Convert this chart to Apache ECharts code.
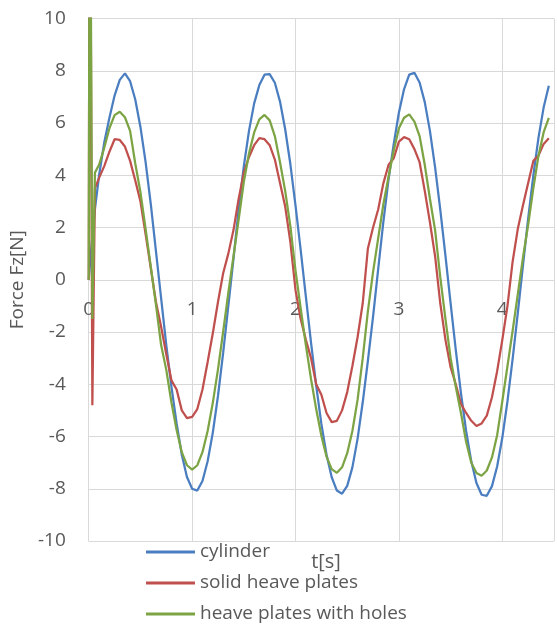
<!DOCTYPE html>
<html>
<head>
<meta charset="utf-8">
<script src="https://cdn.jsdelivr.net/npm/echarts@6/dist/echarts.min.js"></script>
<style>
html,body{margin:0;padding:0;background:#fff;}
#chart{width:557px;height:625px;}
</style>
</head>
<body>
<div id="chart"></div>
<script>
// time [s]
const time = [0, 0.01, 0.035, 0.06,
  0.10, 0.15, 0.20, 0.25, 0.30, 0.35, 0.40, 0.45, 0.50, 0.55, 0.60, 0.65, 0.70, 0.75, 0.80, 0.85, 0.90, 0.95,
  1.00, 1.05, 1.10, 1.15, 1.20, 1.25, 1.30, 1.35, 1.40, 1.45, 1.50, 1.55, 1.60, 1.65, 1.70, 1.75, 1.80, 1.85, 1.90, 1.95,
  2.00, 2.05, 2.10, 2.15, 2.20, 2.25, 2.30, 2.35, 2.40, 2.45, 2.50, 2.55, 2.60, 2.65, 2.70, 2.75, 2.80, 2.85, 2.90, 2.95,
  3.00, 3.05, 3.10, 3.15, 3.20, 3.25, 3.30, 3.35, 3.40, 3.45, 3.50, 3.55, 3.60, 3.65, 3.70, 3.75, 3.80, 3.85, 3.90, 3.95,
  4.00, 4.05, 4.10, 4.15, 4.20, 4.25, 4.30, 4.35, 4.40, 4.45];

// Force Fz [N]
const cylinder = [0, 0.5, 1.7, 2.7,
  4.0, 5.25, 6.2, 7.05, 7.65, 7.9, 7.6, 6.9, 5.85, 4.5, 2.9, 1.1, -0.7, -2.5, -4.1, -5.5, -6.7, -7.55,
  -8.0, -8.07, -7.7, -6.95, -5.85, -4.45, -2.8, -1.0, 0.8, 2.7, 4.35, 5.7, 6.75, 7.45, 7.85, 7.87, 7.54, 6.82, 5.76, 4.43,
  2.84, 1.13, -0.65, -2.41, -4.05, -5.52, -6.7, -7.56, -8.07, -8.19, -7.89, -7.18, -6.09, -4.69, -3.1, -1.41, 0.43, 2.23, 3.85, 5.2,
  6.4, 7.3, 7.85, 7.92, 7.55, 6.8, 5.7, 4.3, 2.68, 0.92, -0.9, -2.68, -4.34, -5.79, -6.95, -7.78, -8.23, -8.27, -7.9, -7.15,
  -6.05, -4.65, -3.03, -1.27, 0.55, 2.34, 3.99, 5.44, 6.6, 7.43];

const solidPlates = [0, 20, -4.8, 3.5,
  3.9, 4.35, 4.9, 5.38, 5.35, 5.1, 4.55, 3.8, 3.0, 1.75, 0.45, -0.85, -1.8, -2.85, -3.85, -4.2, -5.0, -5.3,
  -5.25, -4.95, -4.2, -3.15, -2.05, -0.85, 0.25, 1.0, 1.9, 3.1, 4.1, 4.7, 5.15, 5.42, 5.38, 5.15, 4.6, 3.7, 2.8, 1.45,
  -0.4, -1.5, -2.3, -3.0, -4.0, -4.4, -5.1, -5.45, -5.4, -5.0, -4.3, -3.3, -2.2, -0.9, 1.2, 2.0, 2.7, 3.7, 4.4, 4.65,
  5.29, 5.46, 5.38, 5.0, 4.5, 3.4, 2.2, 0.9, -0.9, -2.3, -3.35, -4.0, -4.75, -5.1, -5.4, -5.6, -5.5, -5.2, -4.5, -3.5,
  -2.3, -1.0, 0.7, 1.95, 2.85, 3.7, 4.55, 4.75, 5.2, 5.42];

const platesWithHoles = [0, 20, -1.5, 4.1,
  4.4, 5.05, 5.8, 6.3, 6.43, 6.22, 5.7, 4.45, 3.35, 1.95, 0.5, -0.95, -2.5, -3.45, -4.7, -5.75, -6.6, -7.1,
  -7.27, -7.1, -6.6, -5.79, -4.71, -3.43, -1.99, -0.5, 0.9, 2.3, 3.75, 4.83, 5.64, 6.14, 6.31, 6.1, 5.5, 4.5, 3.4, 2.05,
  0.35, -1.1, -2.5, -3.8, -4.95, -5.97, -6.77, -7.25, -7.39, -7.18, -6.64, -5.79, -4.6, -3.0, -1.2, 0.3, 1.6, 2.9, 3.95, 4.95,
  5.8, 6.2, 6.33, 6.05, 5.5, 4.4, 3.1, 1.9, 0.1, -1.5, -3.0, -4.1, -5.1, -6.2, -7.0, -7.4, -7.5, -7.3, -6.8, -5.95,
  -4.65, -3.3, -1.95, -0.55, 0.85, 2.1, 3.5, 4.75, 5.65, 6.2];

const seriesNames = ['cylinder', 'solid heave plates', 'heave plates with holes'];
const seriesColors = ['#4A7EC0', '#C0504D', '#7DA444'];
const yTicks = [-10, -8, -6, -4, -2, 0, 2, 4, 6, 8, 10];
const xTicks = [0, 1, 2, 3, 4];

function pairs(vals) { return time.map((t, i) => [t, vals[i]]); }

const FONT = 'Open Sans';
const GRAY = '#595959';
const GRID = '#d9d9d9';

const chart = echarts.init(document.getElementById('chart'), null, {renderer: 'canvas'});
const gridTop = 18.5, gridBottom = 84, H = 625;
const plotH = H - gridTop - gridBottom;
const zeroOffset = -(plotH / 2); // x axis sits on y = 0 (middle of -10..10)

chart.setOption({
  animation: false,
  backgroundColor: '#fff',
  color: seriesColors,
  textStyle: {fontFamily: FONT},
  title: {
    text: 't[s]', left: 321, top: 547, textAlign: 'center',
    textStyle: {fontFamily: FONT, fontSize: 20, fontWeight: 'normal', color: GRAY}
  },
  grid: {left: 86, top: gridTop, right: 0, bottom: gridBottom, containLabel: false},
  legend: {
    orient: 'vertical', left: 146, top: 541, padding: 0,
    icon: 'rect', itemWidth: 49, itemHeight: 3, itemGap: 9,
    data: seriesNames,
    textStyle: {fontFamily: FONT, fontSize: 19, color: GRAY, lineHeight: 22}
  },
  xAxis: {
    type: 'value', min: 0, max: 4.5, interval: 1,
    position: 'bottom', offset: zeroOffset,
    axisLine: {show: true, onZero: false, lineStyle: {color: GRID, width: 1}},
    axisTick: {show: false},
    axisLabel: {
      margin: 20, fontFamily: FONT, fontSize: 19, color: GRAY,
      formatter: v => (xTicks.indexOf(v) >= 0 ? String(v) : '')
    },
    splitLine: {show: true, lineStyle: {color: GRID, width: 1}}
  },
  yAxis: {
    type: 'value', min: -10, max: 10, interval: 2,
    name: 'Force Fz[N]', nameLocation: 'middle', nameRotate: 90, nameGap: 58,
    nameTextStyle: {fontFamily: FONT, fontSize: 19, color: GRAY},
    axisLine: {show: true, onZero: false, lineStyle: {color: GRID, width: 1}},
    axisTick: {show: false},
    axisLabel: {
      margin: 23, fontFamily: FONT, fontSize: 19, color: GRAY,
      formatter: v => (yTicks.indexOf(v) >= 0 ? String(v) : '')
    },
    splitLine: {show: true, lineStyle: {color: GRID, width: 1}}
  },
  series: [
    {name: seriesNames[0], type: 'line', data: pairs(cylinder), showSymbol: false, symbol: 'none',
     lineStyle: {width: 2.25, color: seriesColors[0]}, clip: true},
    {name: seriesNames[1], type: 'line', data: pairs(solidPlates), showSymbol: false, symbol: 'none',
     lineStyle: {width: 2.25, color: seriesColors[1]}, clip: true},
    {name: seriesNames[2], type: 'line', data: pairs(platesWithHoles), showSymbol: false, symbol: 'none',
     lineStyle: {width: 2.25, color: seriesColors[2]}, clip: true}
  ]
});
</script>
</body>
</html>
